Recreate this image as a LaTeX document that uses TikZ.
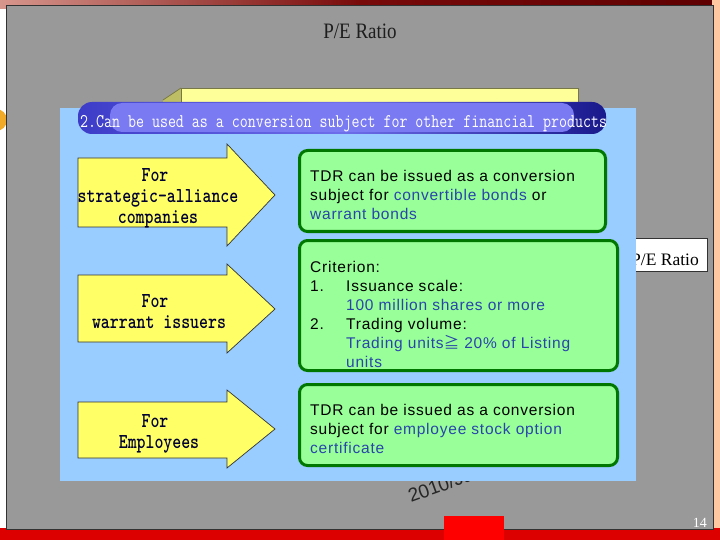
\documentclass[tikz,border=0pt]{standalone}
\usepackage{fontspec}
\newfontfamily\sansf[LetterSpace=5]{Liberation Sans}
\newfontfamily\plainsans{Liberation Sans}
\newfontfamily\serf{Liberation Serif}
\newfontfamily\monobold{lmmonolt10-bold.otf}
\newfontfamily\cjk{Noto Sans CJK SC}
\newcommand{\tallbox}[1]{\scalebox{1}[1.25]{#1}}
\definecolor{slidegray}{RGB}{153,153,153}
\definecolor{slideedge}{RGB}{50,50,50}
\definecolor{panelblue}{RGB}{153,204,255}
\definecolor{arrowyellow}{RGB}{255,255,102}
\definecolor{boxgreen}{RGB}{153,255,153}
\definecolor{boxedge}{RGB}{0,120,0}
\definecolor{linkblue}{RGB}{40,70,170}
\definecolor{navytext}{RGB}{0,0,51}
\definecolor{paleyellow}{RGB}{255,255,153}
\definecolor{olivebevel}{RGB}{190,190,100}
\definecolor{oliveedge}{RGB}{120,120,70}
\definecolor{toppink}{RGB}{215,150,140}
\definecolor{topred}{RGB}{120,10,10}
\definecolor{topdark}{RGB}{95,0,0}
\definecolor{peach}{RGB}{255,200,160}
\definecolor{bottomred}{RGB}{220,0,0}
\definecolor{orangeblob}{RGB}{240,170,40}
\definecolor{titlegray}{RGB}{30,30,30}
\definecolor{bannerleft}{RGB}{60,60,200}
\definecolor{bannerright}{RGB}{25,25,140}
\definecolor{bannermid}{RGB}{110,110,235}
\definecolor{bannerinner}{RGB}{122,122,242}
\definecolor{purered}{RGB}{255,0,0}
\tikzset{
  greenbox/.style={draw=boxedge, fill=boxgreen, line width=3pt, rounded corners=8pt, inner sep=0pt, outer sep=0pt, anchor=north west},
  boxtext/.style={anchor=base west, inner sep=0pt, font=\sansf\fontsize{15.5}{19}\selectfont},
  arrowshape/.style={fill=arrowyellow, draw=black!80, line width=0.7pt},
  arrowtext/.style={anchor=base, inner sep=0pt, text=navytext, font=\monobold\fontsize{17}{21}\selectfont},
}
\begin{document}
\begin{tikzpicture}[x=1pt,y=-1pt]
\useasboundingbox (0,0) rectangle (720,540);
% page background
\fill[white] (0,0) rectangle (720,540);
\shade[left color=toppink, right color=topdark, middle color=topred] (0,0) rectangle (720,9);
\fill[peach] (712,0) rectangle (720,540);
\fill[bottomred] (0,528) rectangle (720,540);
\fill[orangeblob] (-4,120) circle (11);
% slide
\draw[fill=slidegray, draw=slideedge, line width=1pt] (6,6) rectangle (713,529);
\node[anchor=base, inner sep=0pt, font=\serf\fontsize{20}{24}\selectfont, text=titlegray] (title) at (360,39) {\scalebox{0.95}[1.1]{P/E Ratio}};
% right side box
\draw[fill=white, draw=black!80, line width=0.8pt] (590,238) rectangle (707,271);
\node[anchor=base east, inner sep=0pt, font=\serf\fontsize{17.5}{20}\selectfont] (pe2) at (699,265) {P/E Ratio};
% date text
\node[anchor=base west, inner sep=0pt, rotate=20, font=\plainsans\fontsize{19}{22}\selectfont, text=black!85] (date) at (411,503) {2010/Jan};
% yellow 3D box behind banner
\fill[olivebevel] (163,100) -- (181,88) -- (181,120) -- (163,120) -- cycle;
\draw[oliveedge, line width=0.8pt] (163,100) -- (181,88);
\draw[fill=paleyellow, draw=oliveedge, line width=0.8pt] (181,140) -- (181,88) -- (578,88) -- (578,140);
% blue panel
\fill[panelblue] (60,108) rectangle (636,481);
% banner
\shade[rounded corners=14pt, left color=bannerleft, right color=bannerright, middle color=bannermid] (78,102) rectangle (606,134);
\fill[bannerinner, rounded corners=12pt] (110,103) rectangle (574,132);
\node[anchor=base west, inner sep=0pt, text=white, font=\ttfamily\fontsize{15.5}{18}\selectfont] (banner) at (80,128) {\tallbox{2.Can be used as a conversion subject for other financial products}};
% arrows
\draw[arrowshape] (78,158) -- (227,158) -- (227,144) -- (275,195) -- (227,246) -- (227,227) -- (78,227) -- cycle;
\draw[arrowshape] (78,275) -- (227,275) -- (227,264) -- (275,309) -- (227,353) -- (227,342) -- (78,342) -- cycle;
\draw[arrowshape] (78,402) -- (227,402) -- (227,390) -- (275,429) -- (227,468) -- (227,458) -- (78,458) -- cycle;
\node[arrowtext] (a1l1) at (155,182) {\tallbox{For}};
\node[arrowtext] (a1l2) at (158,203) {\tallbox{strategic-alliance}};
\node[arrowtext] (a1l3) at (158,224) {\tallbox{companies}};
\node[arrowtext] (a2l1) at (155,307) {\tallbox{For}};
\node[arrowtext] (a2l2) at (159,328) {\tallbox{warrant issuers}};
\node[arrowtext] (a3l1) at (155,427) {\tallbox{For}};
\node[arrowtext] (a3l2) at (159,448) {\tallbox{Employees}};
% green boxes
\node[greenbox, minimum width=306pt, minimum height=81pt] (g1) at (299.5,150.5) {};
\node[greenbox, minimum width=318pt, minimum height=130pt] (g2) at (299.5,240.5) {};
\node[greenbox, minimum width=318pt, minimum height=81pt] (g3) at (299.5,384.5) {};
\node[boxtext] (g1l1) at (310,182) {TDR can be issued as a conversion};
\node[boxtext] (g1l2) at (310,201) {subject for \textcolor{linkblue}{convertible bonds} or};
\node[boxtext, text=linkblue] (g1l3) at (310,220) {warrant bonds};
\node[boxtext] (g2l1) at (310,272) {Criterion:};
\node[boxtext] (g2n1) at (310,291) {1.};
\node[boxtext] (g2l2) at (346,291) {Issuance scale:};
\node[boxtext, text=linkblue] (g2l3) at (346,310) {100 million shares or more};
\node[boxtext] (g2n2) at (310,329) {2.};
\node[boxtext] (g2l4) at (346,329) {Trading volume:};
\node[boxtext, text=linkblue] (g2l5) at (346,348) {Trading units{\cjk ≧} 20\% of Listing};
\node[boxtext, text=linkblue] (g2l6) at (346,367) {units};
\node[boxtext] (g3l1) at (310,415) {TDR can be issued as a conversion};
\node[boxtext] (g3l2) at (310,434) {subject for \textcolor{linkblue}{employee stock option}};
\node[boxtext, text=linkblue] (g3l3) at (310,453) {certificate};
% bottom decorations
\fill[purered] (444,516) rectangle (504,540);
\node[anchor=base east, inner sep=0pt, text=white, font=\serf\fontsize{14}{16}\selectfont] (pagenum) at (707,527) {14};
\end{tikzpicture}
\end{document}
